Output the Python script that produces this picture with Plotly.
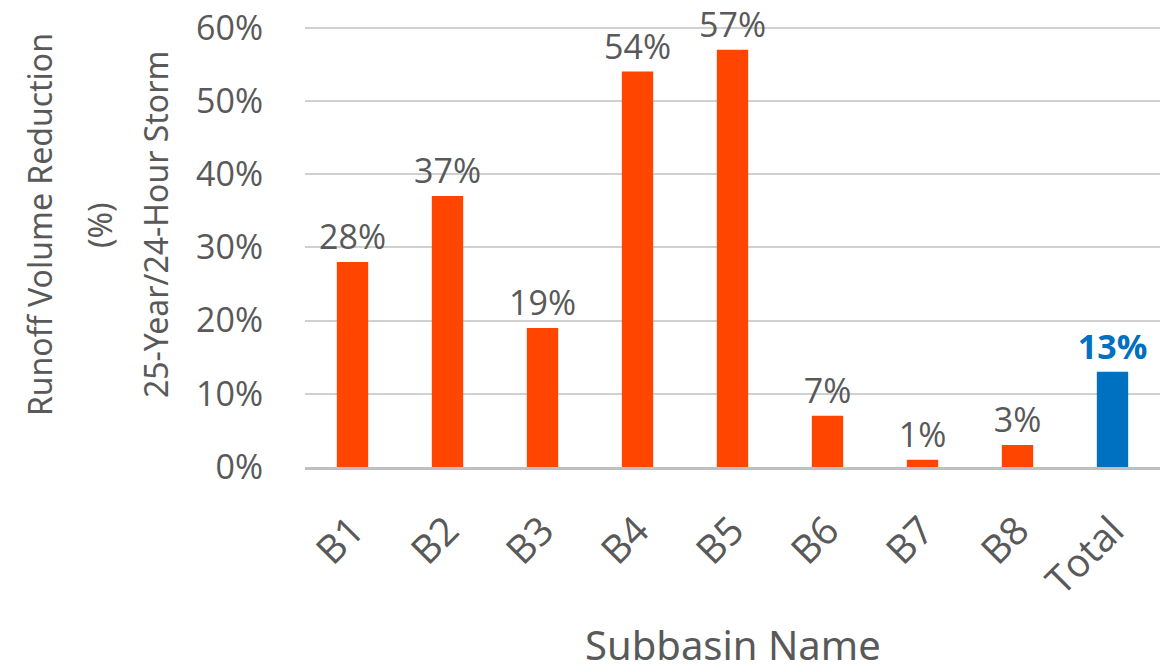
import plotly.graph_objects as go

# values
subbasins = ["B1", "B2", "B3", "B4", "B5", "B6", "B7", "B8", "Total"]
reduction = [0.28, 0.37, 0.19, 0.54, 0.57, 0.07, 0.01, 0.03, 0.13]
y_ticks = [0, 0.1, 0.2, 0.3, 0.4, 0.5, 0.6]

bar_colors = ["#FF4500"] * 8 + ["#0070C0"]
label_colors = ["#595959"] * 8 + ["#0070C0"]
labels = [f"{v:.0%}" for v in reduction[:-1]] + [f"<b>{reduction[-1]:.0%}</b>"]

fig = go.Figure(go.Bar(
    x=subbasins, y=reduction,
    marker=dict(color=bar_colors, line=dict(width=0)),
    text=labels, textposition="outside", cliponaxis=False, constraintext="none",
    textfont=dict(size=34, color=label_colors, family="Open Sans"),
))

# page body adds an 8px offset, so margins are shifted to compensate
fig.update_layout(
    width=1168, height=670,
    margin=dict(l=297, r=16, t=16, b=211),
    plot_bgcolor="white", paper_bgcolor="white",
    bargap=0.67, showlegend=False,
    font=dict(family="Open Sans", color="#595959", size=34),
)
# range a touch above 60% so the top gridline is kept
fig.update_yaxes(
    range=[0, 0.605], tickvals=y_ticks, ticktext=[f"{t:.0%}" for t in y_ticks],
    automargin=False, showgrid=True, gridcolor="#D0D0D0", gridwidth=2,
    zeroline=False, showline=False, ticks="", ticklabelstandoff=41,
    ticklabeloverflow="allow",
)
fig.update_xaxes(
    tickangle=-45, showline=True, linecolor="#BFBFBF", linewidth=3,
    ticks="", automargin=False, ticklabelstandoff=22,
    tickfont=dict(size=39),
)

# axis titles as annotations so the line spacing matches
ytitle = ["Runoff Volume Reduction", "(%)", "25-Year/24-Hour Storm"]
for txt, xs in zip(ytitle, [-266, -206, -150]):
    fig.add_annotation(text=txt, xref="paper", yref="paper", x=0, y=0.546,
                       xshift=xs, xanchor="center", yanchor="middle",
                       textangle=-90, showarrow=False,
                       font=dict(size=32, family="Noto Sans", color="#595959"))
fig.add_annotation(text="Subbasin Name", xref="paper", yref="paper", x=0.5, y=-0.4,
                   xanchor="center", yanchor="middle", showarrow=False,
                   font=dict(size=40, family="Noto Sans", color="#595959"))

fig.write_html("out.html")
